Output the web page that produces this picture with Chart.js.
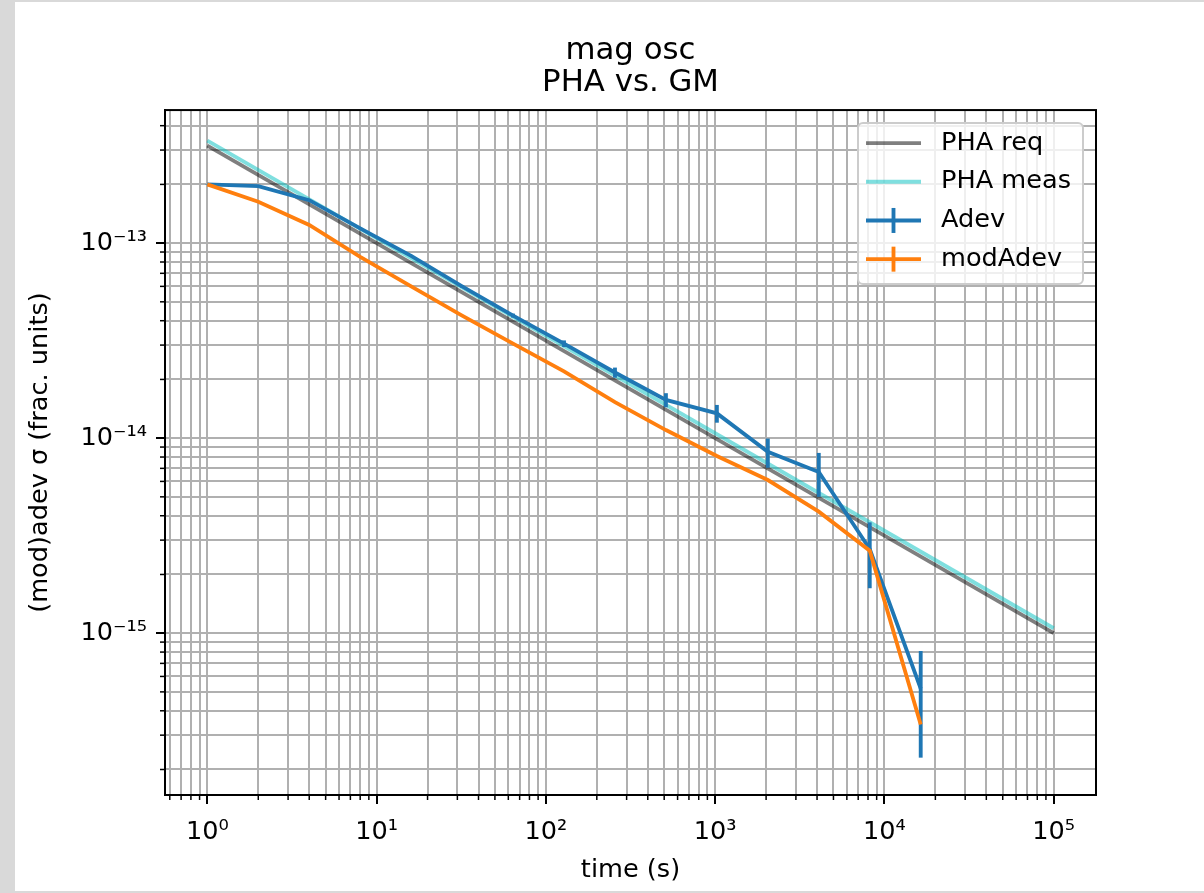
<!DOCTYPE html>
<html>
<head>
<meta charset="utf-8">
<script src="https://cdn.jsdelivr.net/npm/chart.js@4/dist/chart.umd.min.js"></script>
<style>
  html, body { margin: 0; padding: 0; background: #d9d9d9; width: 1204px; height: 893px; overflow: hidden; }
  #wrap { position: absolute; left: 15px; top: 2px; width: 1189px; height: 889px; background: #ffffff; }
  canvas { display: block; }
</style>
</head>
<body>
<div id="wrap"><canvas id="c" width="1189" height="889"></canvas></div>
<script>
// ---------------- data ----------------
const tau = [1, 2, 4, 8, 16, 32, 64, 128, 256, 512, 1024, 2048, 4096, 8192, 16384];
const adev = [2.0e-13, 1.96e-13, 1.66e-13, 1.19e-13, 8.6e-14, 6.0e-14, 4.25e-14, 3.05e-14, 2.17e-14, 1.57e-14, 1.34e-14, 8.5e-15, 6.7e-15, 2.7e-15, 5.2e-16];
const adevErr = [6e-16, 8e-16, 1.0e-15, 1.1e-15, 1.0e-15, 1.0e-15, 1.0e-15, 1.2e-15, 1.3e-15, 1.3e-15, 1.4e-15, 1.45e-15, 1.7e-15, 1.0e-15, 2.9e-16];
const modAdev = [2.0e-13, 1.63e-13, 1.24e-13, 8.5e-14, 6.0e-14, 4.25e-14, 3.05e-14, 2.2e-14, 1.53e-14, 1.1e-14, 8.1e-15, 6.1e-15, 4.2e-15, 2.65e-15, 3.4e-16];
const reqTau = [1, 100000];
const reqVal = [3.16e-13, 1.0e-15];
const measTau = [1, 100000];
const measVal = [3.35e-13, 1.06e-15];

const xMajorTicks = [1, 10, 100, 1000, 10000, 100000];
const yMajorTicks = [1e-15, 1e-14, 1e-13];
const xRange = [0.5623, 177828];
const yRange = [1.48e-16, 4.81e-13];

const titleLines = ['mag osc', 'PHA vs. GM'];
const xTitle = 'time (s)';
const yTitle = '(mod)adev σ (frac. units)';
const seriesLabels = ['PHA req', 'PHA meas', 'Adev', 'modAdev'];

// --------------- helpers ---------------
function withMinors(majors, lo, hi) {
  const out = [];
  const first = Math.floor(Math.log10(lo));
  const last = Math.ceil(Math.log10(hi));
  for (let e = first; e <= last; e++) {
    for (let m = 1; m <= 9; m++) {
      const v = parseFloat((m * Math.pow(10, e)).toPrecision(6));
      if (v >= lo && v <= hi) out.push({ value: v, major: m === 1 });
    }
  }
  return out;
}
const xTicks = withMinors(xMajorTicks, xRange[0], xRange[1]);
const yTicks = withMinors(yMajorTicks, yRange[0], yRange[1]);

const SUP = {'0':'⁰','1':'¹','2':'²','3':'³','4':'⁴','5':'⁵','6':'⁶','7':'⁷','8':'⁸','9':'⁹','-':'⁻'};
function powLabel(v) {
  const l = Math.log10(v);
  const r = Math.round(l);
  if (Math.abs(l - r) > 1e-6) return '';
  return '10' + String(r).split('').map(c => SUP[c]).join('');
}
const pts = (xs, ys) => xs.map((x, i) => ({ x: x, y: ys[i] }));

const FONT = 'DejaVu Sans';
const FS = 25.6;
const LW = 3.85;

// --------------- plugins ---------------
const errorBarPlugin = {
  id: 'errorBars',
  afterDatasetDraw(chart, args) {
    const ds = chart.data.datasets[args.index];
    if (!ds.errors) return;
    const ctx = chart.ctx, xs = chart.scales.x, ys = chart.scales.y, a = chart.chartArea;
    ctx.save();
    ctx.beginPath();
    ctx.rect(a.left, a.top, a.right - a.left, a.bottom - a.top);
    ctx.clip();
    ctx.strokeStyle = ds.borderColor;
    ctx.lineWidth = ds.borderWidth;
    ctx.lineCap = 'butt';
    ds.data.forEach((p, i) => {
      const e = ds.errors[i];
      const px = xs.getPixelForValue(p.x);
      const lo = Math.max(p.y - e, 1e-30);
      ctx.beginPath();
      ctx.moveTo(px, ys.getPixelForValue(p.y + e));
      ctx.lineTo(px, ys.getPixelForValue(lo));
      ctx.stroke();
    });
    ctx.restore();
  }
};

const framePlugin = {
  id: 'frameAndMinor',
  afterDatasetsDraw(chart) {
    const ctx = chart.ctx, a = chart.chartArea;
    ctx.save();
    ctx.strokeStyle = '#000';
    ctx.lineWidth = 1.5;
    chart.scales.x.ticks.forEach(t => {
      if (t.major) return;
      const px = chart.scales.x.getPixelForValue(t.value);
      ctx.beginPath(); ctx.moveTo(px, a.bottom); ctx.lineTo(px, a.bottom + 5); ctx.stroke();
    });
    chart.scales.y.ticks.forEach(t => {
      if (t.major) return;
      const py = chart.scales.y.getPixelForValue(t.value);
      ctx.beginPath(); ctx.moveTo(a.left, py); ctx.lineTo(a.left - 5, py); ctx.stroke();
    });
    ctx.lineWidth = 2;
    ctx.strokeRect(a.left, a.top, a.right - a.left, a.bottom - a.top);
    ctx.restore();
  }
};

const legendPlugin = {
  id: 'mplLegend',
  afterDraw(chart) {
    const ctx = chart.ctx, a = chart.chartArea;
    const boxR = a.right - 13, boxT = a.top + 13, boxW = 225, boxH = 161, r = 5;
    const boxL = boxR - boxW;
    ctx.save();
    ctx.beginPath();
    ctx.moveTo(boxL + r, boxT);
    ctx.lineTo(boxR - r, boxT); ctx.arcTo(boxR, boxT, boxR, boxT + r, r);
    ctx.lineTo(boxR, boxT + boxH - r); ctx.arcTo(boxR, boxT + boxH, boxR - r, boxT + boxH, r);
    ctx.lineTo(boxL + r, boxT + boxH); ctx.arcTo(boxL, boxT + boxH, boxL, boxT + boxH - r, r);
    ctx.lineTo(boxL, boxT + r); ctx.arcTo(boxL, boxT, boxL + r, boxT, r);
    ctx.closePath();
    ctx.fillStyle = 'rgba(255,255,255,0.8)';
    ctx.fill();
    ctx.strokeStyle = '#cccccc';
    ctx.lineWidth = 2;
    ctx.stroke();
    ctx.font = FS + 'px "' + FONT + '"';
    ctx.textBaseline = 'middle';
    ctx.textAlign = 'left';
    chart.data.datasets.forEach((ds, i) => {
      const cy = boxT + 20 + i * 38.7;
      ctx.strokeStyle = ds.borderColor;
      ctx.lineWidth = ds.borderWidth;
      ctx.beginPath(); ctx.moveTo(boxL + 8, cy); ctx.lineTo(boxL + 63, cy); ctx.stroke();
      if (ds.showErrorInLegend) {
        const cx = boxL + 35.5;
        ctx.beginPath(); ctx.moveTo(cx, cy - 12.5); ctx.lineTo(cx, cy + 12.5); ctx.stroke();
      }
      ctx.fillStyle = '#000';
      ctx.fillText(ds.label, boxL + 83, cy);
    });
    ctx.restore();
  }
};

// --------------- chart ---------------
const common = { pointRadius: 0, pointHoverRadius: 0, tension: 0, fill: false, borderWidth: LW };
new Chart(document.getElementById('c'), {
  type: 'line',
  data: {
    datasets: [
      Object.assign({ label: seriesLabels[0], data: pts(reqTau, reqVal), borderColor: 'rgba(0,0,0,0.5)', order: 4 }, common),
      Object.assign({ label: seriesLabels[1], data: pts(measTau, measVal), borderColor: 'rgba(0,191,191,0.5)', order: 3 }, common),
      Object.assign({ label: seriesLabels[2], data: pts(tau, adev), errors: adevErr, showErrorInLegend: true, borderColor: '#1f77b4', order: 2 }, common),
      Object.assign({ label: seriesLabels[3], data: pts(tau, modAdev), showErrorInLegend: true, borderColor: '#ff7f0e', order: 1 }, common)
    ]
  },
  options: {
    responsive: false,
    animation: false,
    devicePixelRatio: 1,
    events: [],
    layout: { padding: { left: 0, right: 108, top: 0, bottom: 0 } },
    plugins: {
      legend: { display: false },
      tooltip: { enabled: false },
      title: {
        display: true,
        fullSize: false,
        text: titleLines,
        color: '#000',
        font: { family: FONT, size: 30.8, weight: 'normal', lineHeight: 1.04 },
        padding: { top: 33, bottom: 11 }
      }
    },
    scales: {
      x: {
        type: 'logarithmic',
        position: 'bottom',
        min: xRange[0],
        max: xRange[1],
        afterBuildTicks: s => { s.ticks = xTicks.map(t => ({ value: t.value, major: t.major })); },
        afterFit: s => { s.height = 96; },
        ticks: {
          autoSkip: false, maxRotation: 0, minRotation: 0,
          padding: 13, color: '#000',
          font: { family: FONT, size: FS, lineHeight: 1.2 },
          callback: v => powLabel(v)
        },
        grid: {
          color: '#b0b0b0', lineWidth: 2, drawTicks: true, tickLength: 9,
          tickColor: c => (c.tick && c.tick.major) ? '#000' : 'rgba(0,0,0,0)', tickWidth: 2
        },
        border: { display: true, color: '#000', width: 2 },
        title: {
          display: true, text: xTitle, color: '#000',
          font: { family: FONT, size: FS, lineHeight: 1.2 },
          padding: { top: 0, bottom: 5 }
        }
      },
      y: {
        type: 'logarithmic',
        position: 'left',
        min: yRange[0],
        max: yRange[1],
        afterBuildTicks: s => { s.ticks = yTicks.map(t => ({ value: t.value, major: t.major })); },
        afterFit: s => { s.width = 150; },
        ticks: {
          autoSkip: false, padding: 9, color: '#000',
          font: { family: FONT, size: FS, lineHeight: 1.2 },
          callback: v => powLabel(v)
        },
        grid: {
          color: '#b0b0b0', lineWidth: 2, drawTicks: true, tickLength: 9,
          tickColor: c => (c.tick && c.tick.major) ? '#000' : 'rgba(0,0,0,0)', tickWidth: 2
        },
        border: { display: true, color: '#000', width: 2 },
        title: {
          display: true, text: yTitle, color: '#000',
          font: { family: FONT, size: FS, lineHeight: 1.2 },
          padding: { top: 10, bottom: 0 }
        }
      }
    }
  },
  plugins: [errorBarPlugin, framePlugin, legendPlugin]
});
</script>
</body>
</html>
